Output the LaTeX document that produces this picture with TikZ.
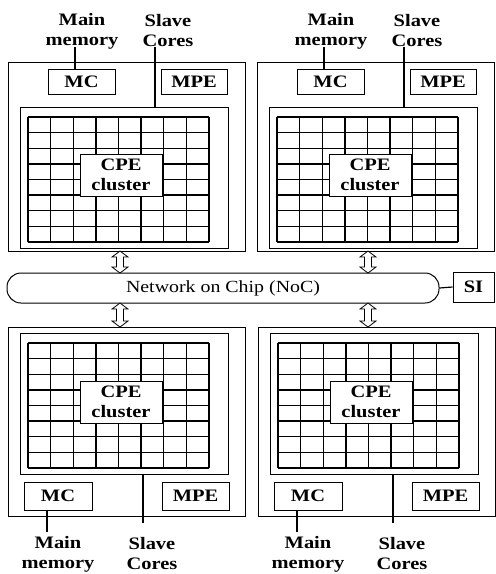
\documentclass[tikz,border=0pt]{standalone}
\usepackage{fontspec}
\setmainfont{Liberation Serif}[FakeStretch=1.17]
\usetikzlibrary{calc}
\tikzset{
 box/.style={draw, line width=1pt, fill=white, inner sep=0pt, align=center, font=\bfseries\fontsize{17.5}{20}\selectfont},
 lbl/.style={align=center, inner sep=0pt, font=\bfseries\fontsize{17.5}{20}\selectfont},
 gridline/.style={line width=1.4pt},
 conn/.style={line width=1.2pt},
 arr/.style={draw, line width=0.8pt, fill=white, line join=miter},
}
\newcommand\rbox[6]{\node[box, minimum width={(#4-#2)*1pt}, minimum height={(#5-#3)*1pt}] (#1) at ({(#2+#4)/2},{(#3+#5)/2}) {#6};}
\newcommand\cpegrid[2]{%
 \foreach \i in {0,...,8} {\draw[gridline] ({28+\i*22.625},#1) -- ({28+\i*22.625},#2);}
 \foreach \j in {0,...,8} {\draw[gridline] (28,{#1+\j*(#2-#1)/8}) -- (209,{#1+\j*(#2-#1)/8});}
}
\newcommand\topgroup[2]{%
\begin{scope}[shift={(#2,0)}]
 \rbox{#1O}{8}{62}{245}{251}{}
 \rbox{#1I}{20}{107}{228}{248}{}
 \cpegrid{117}{242}
 \rbox{#1C}{80}{154}{162}{196}{CPE\\cluster}
 \rbox{#1MC}{48}{69}{115}{94}{MC}
 \rbox{#1MPE}{161}{69}{227}{94}{MPE}
 \node[lbl] (#1mm) at (82,31) {Main\\memory};
 \node[lbl] (#1sc) at (168,31) {Slave\\Cores};
 \coordinate (#1a) at (75,47);
 \coordinate (#1b) at (155,47);
 \draw[conn] (#1a) -- (#1a |- #1MC.north);
 \draw[conn] (#1b) -- (#1b |- #1I.north);
\end{scope}}
\newcommand\botgroup[2]{%
\begin{scope}[shift={(#2,0)}]
 \rbox{#1O}{8}{327}{245}{516}{}
 \rbox{#1I}{20}{333}{228}{474}{}
 \cpegrid{343}{468}
 \rbox{#1C}{80}{381}{162}{423}{CPE\\cluster}
 \rbox{#1MC}{24}{482}{92}{510}{MC}
 \rbox{#1MPE}{162}{482}{229}{510}{MPE}
 \node[lbl] (#1mm) at (58,554) {Main\\memory};
 \node[lbl] (#1sc) at (152,554) {Slave\\Cores};
 \coordinate (#1a) at (47,532);
 \coordinate (#1b) at (143,523);
 \draw[conn] (#1a) -- (#1a |- #1MC.south);
 \draw[conn] (#1b) -- (#1b |- #1I.south);
\end{scope}}
\newcommand\dblarr[3]{%
 \draw[arr] (#1,#2) -- ({#1+8},{#2+6}) -- ({#1+3.5},{#2+6}) -- ({#1+3.5},{#3-6}) -- ({#1+8},{#3-6}) -- (#1,#3)
  -- ({#1-8},{#3-6}) -- ({#1-3.5},{#3-6}) -- ({#1-3.5},{#2+6}) -- ({#1-8},{#2+6}) -- cycle;}
\begin{document}
\begin{tikzpicture}[x=1pt,y=-1pt]
\useasboundingbox[fill=white] (0,0) rectangle (496,574);
\topgroup{tl}{0}
\topgroup{tr}{249}
\botgroup{bl}{0}
\botgroup{br}{250}
\node[draw, line width=1pt, rounded corners=14pt, minimum width=432pt, minimum height=30pt, inner sep=0pt,
  font=\fontsize{17}{20}\selectfont] (noc) at (223,288) {Network on Chip (NoC)};
\rbox{si}{453}{272}{494}{302}{SI}
\draw[conn] (noc.east) -- (si.west);
\dblarr{120}{251}{273}
\dblarr{368}{251}{273}
\dblarr{120}{303}{327}
\dblarr{368}{303}{327}
\end{tikzpicture}
\end{document}
